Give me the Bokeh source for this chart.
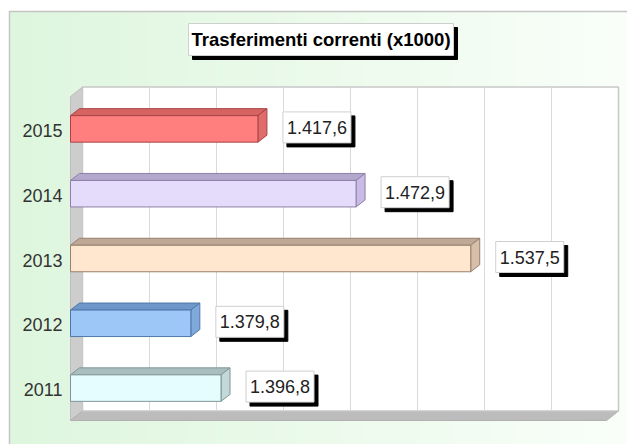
import numpy as np
from bokeh.plotting import figure
from bokeh.models import Range1d
from bokeh.core.properties import value
from bokeh.embed import file_html
from bokeh.resources import INLINE

# ---- data ----
years = ["2011", "2012", "2013", "2014", "2015"]
values = [1396.8, 1379.8, 1537.5, 1472.9, 1417.6]
front_colors = ["#e6fdff", "#9cc7f7", "#ffe6cf", "#e5dcfc", "#ff7f7f"]
top_colors = ["#a9bfbf", "#6f98c9", "#bfa896", "#b4a8cc", "#d66262"]
side_colors = ["#c3d8d8", "#7ea9da", "#d6bea9", "#c9bbe6", "#e06c6c"]
edge_colors = ["#7f9595", "#4f78a8", "#97806e", "#8c80a6", "#a84444"]
title_text = "Trasferimenti correnti (x1000)"
axis_min, axis_max = 1312.0, 1614.0
n_grid = 8

FONT = "Liberation Sans"

# ---- layout (figure pixels) ----
W, H = 627, 444
PL, PR, PT, PB = 70, 606, 96, 420          # front plane of the plot box
kx = (PR - PL) / (axis_max - axis_min)      # px per value unit
band = (PB - PT) / len(years)               # px per category
x_start = axis_min - PL / kx
x_end = axis_max + (W - PR) / kx
y_start = 0 - (H - PB) / band
y_end = len(years) + PT / band


def dx(px):
    return px / kx


def dy(px):
    return px / band


def sx(px):  # screen x -> data
    return x_start + px / kx


def sy(py):  # screen y (from top) -> data
    return y_end - py / band


p = figure(width=W, height=H, x_range=Range1d(x_start, x_end), y_range=Range1d(y_start, y_end),
           output_backend="svg", toolbar_location=None, min_border=0,
           x_axis_location=None, y_axis_location=None, outline_line_color=None,
           background_fill_color="white", border_fill_color="white")
p.grid.visible = False

# ---- background panel with horizontal gradient ----
ncol = 620
t = np.linspace(0, 1, ncol)
c0 = np.array([222, 246, 222])
c1 = np.array([250, 255, 250])
cols = (c0[None, :] * (1 - t[:, None]) + c1[None, :] * t[:, None]).astype(np.uint32)
img = np.empty((1, ncol), dtype=np.uint32)
view = img.view(dtype=np.uint8).reshape((1, ncol, 4))
view[0, :, 0] = cols[:, 0]
view[0, :, 1] = cols[:, 1]
view[0, :, 2] = cols[:, 2]
view[0, :, 3] = 255
p.image_rgba(image=[img], x=sx(9), y=y_start, dw=dx(W - 9), dh=dy(H - 11))
p.quad(left=[sx(9)], right=[x_end + dx(10)], bottom=[y_start - dy(10)], top=[sy(11)],
       fill_color=None, line_color="#c4c4c4", line_width=1.5)

# ---- 3D box: walls ----
DX, DY = dx(12), dy(9.5)
n = len(years)
p.patch(x=[axis_min, axis_min + DX, axis_min + DX, axis_min], y=[n, n + DY, DY, 0],
        fill_color="#cdcdcd", line_color="#bdbdbd", line_width=1)
p.patch(x=[axis_min, axis_min + DX, axis_max + DX, axis_max], y=[0, DY, DY, 0],
        fill_color="#bcbcbc", line_color="#b0b0b0", line_width=1)
p.quad(left=[axis_min + DX], right=[axis_max + DX], bottom=[DY], top=[n + DY],
       fill_color="white", line_color="#c8c8c8", line_width=1.5)
grid_x = [axis_min + i * (axis_max - axis_min) / n_grid + DX for i in range(1, n_grid)]
p.segment(x0=grid_x, y0=[DY] * len(grid_x), x1=grid_x, y1=[n + DY] * len(grid_x),
          line_color="#dadada", line_width=1)

# ---- bars ----
h = dy(13.25)
bdx, bdy = dx(9), dy(7)
yc = [i + 0.5 for i in range(n)]
tops_x, tops_y, sides_x, sides_y = [], [], [], []
for v, y in zip(values, yc):
    tops_x.append([axis_min, axis_min + bdx, v + bdx, v])
    tops_y.append([y + h, y + h + bdy, y + h + bdy, y + h])
    sides_x.append([v, v, v + bdx, v + bdx])
    sides_y.append([y - h, y + h, y + h + bdy, y - h + bdy])
p.patches(xs=tops_x, ys=tops_y, fill_color=top_colors, line_color=edge_colors, line_width=1)
p.patches(xs=sides_x, ys=sides_y, fill_color=side_colors, line_color=edge_colors, line_width=1)
p.quad(left=[axis_min] * n, right=values, bottom=[y - h for y in yc], top=[y + h for y in yc],
       fill_color=front_colors, line_color=edge_colors, line_width=1)

# ---- year labels ----
p.text(x=[axis_min - dx(8)] * n, y=[y - dy(1.5) for y in yc], text=years, text_align="right",
       text_baseline="middle", text_font=value(FONT), text_font_size="18px", text_color="#333333")


# ---- value labels ----
def fmt(v):
    s = f"{v:,.1f}"
    return s.replace(",", "X").replace(".", ",").replace("X", ".")


labels = [fmt(v) for v in values]
lx = [v + dx(25 + 34) for v in values]
ly = [y + dy(1.5) for y in yc]
p.rect(x=[x + dx(4) for x in lx], y=[y - dy(4) for y in ly], width=68, height=31,
       width_units="screen", height_units="screen", fill_color="black", line_color="black")
p.rect(x=lx, y=ly, width=68, height=31, width_units="screen", height_units="screen",
       fill_color="white", line_color="#cfcfcf", line_width=1)
p.text(x=lx, y=ly, text=labels, text_align="center", text_baseline="middle",
       text_font=value(FONT), text_font_size="18px", text_color="#222222")

# ---- title ----
tx, ty = sx(320.5), sy(39)
p.rect(x=[tx + dx(4)], y=[ty - dy(4)], width=265, height=32, width_units="screen",
       height_units="screen", fill_color="black", line_color="black")
p.rect(x=[tx], y=[ty], width=265, height=32, width_units="screen", height_units="screen",
       fill_color="white", line_color="#cfcfcf", line_width=1)
p.text(x=[tx], y=[ty], text=[title_text], text_align="center", text_baseline="middle",
       text_font=value(FONT), text_font_size="18.5px", text_font_style="bold", text_color="black")

open("out.html", "w").write(file_html(p, INLINE))
